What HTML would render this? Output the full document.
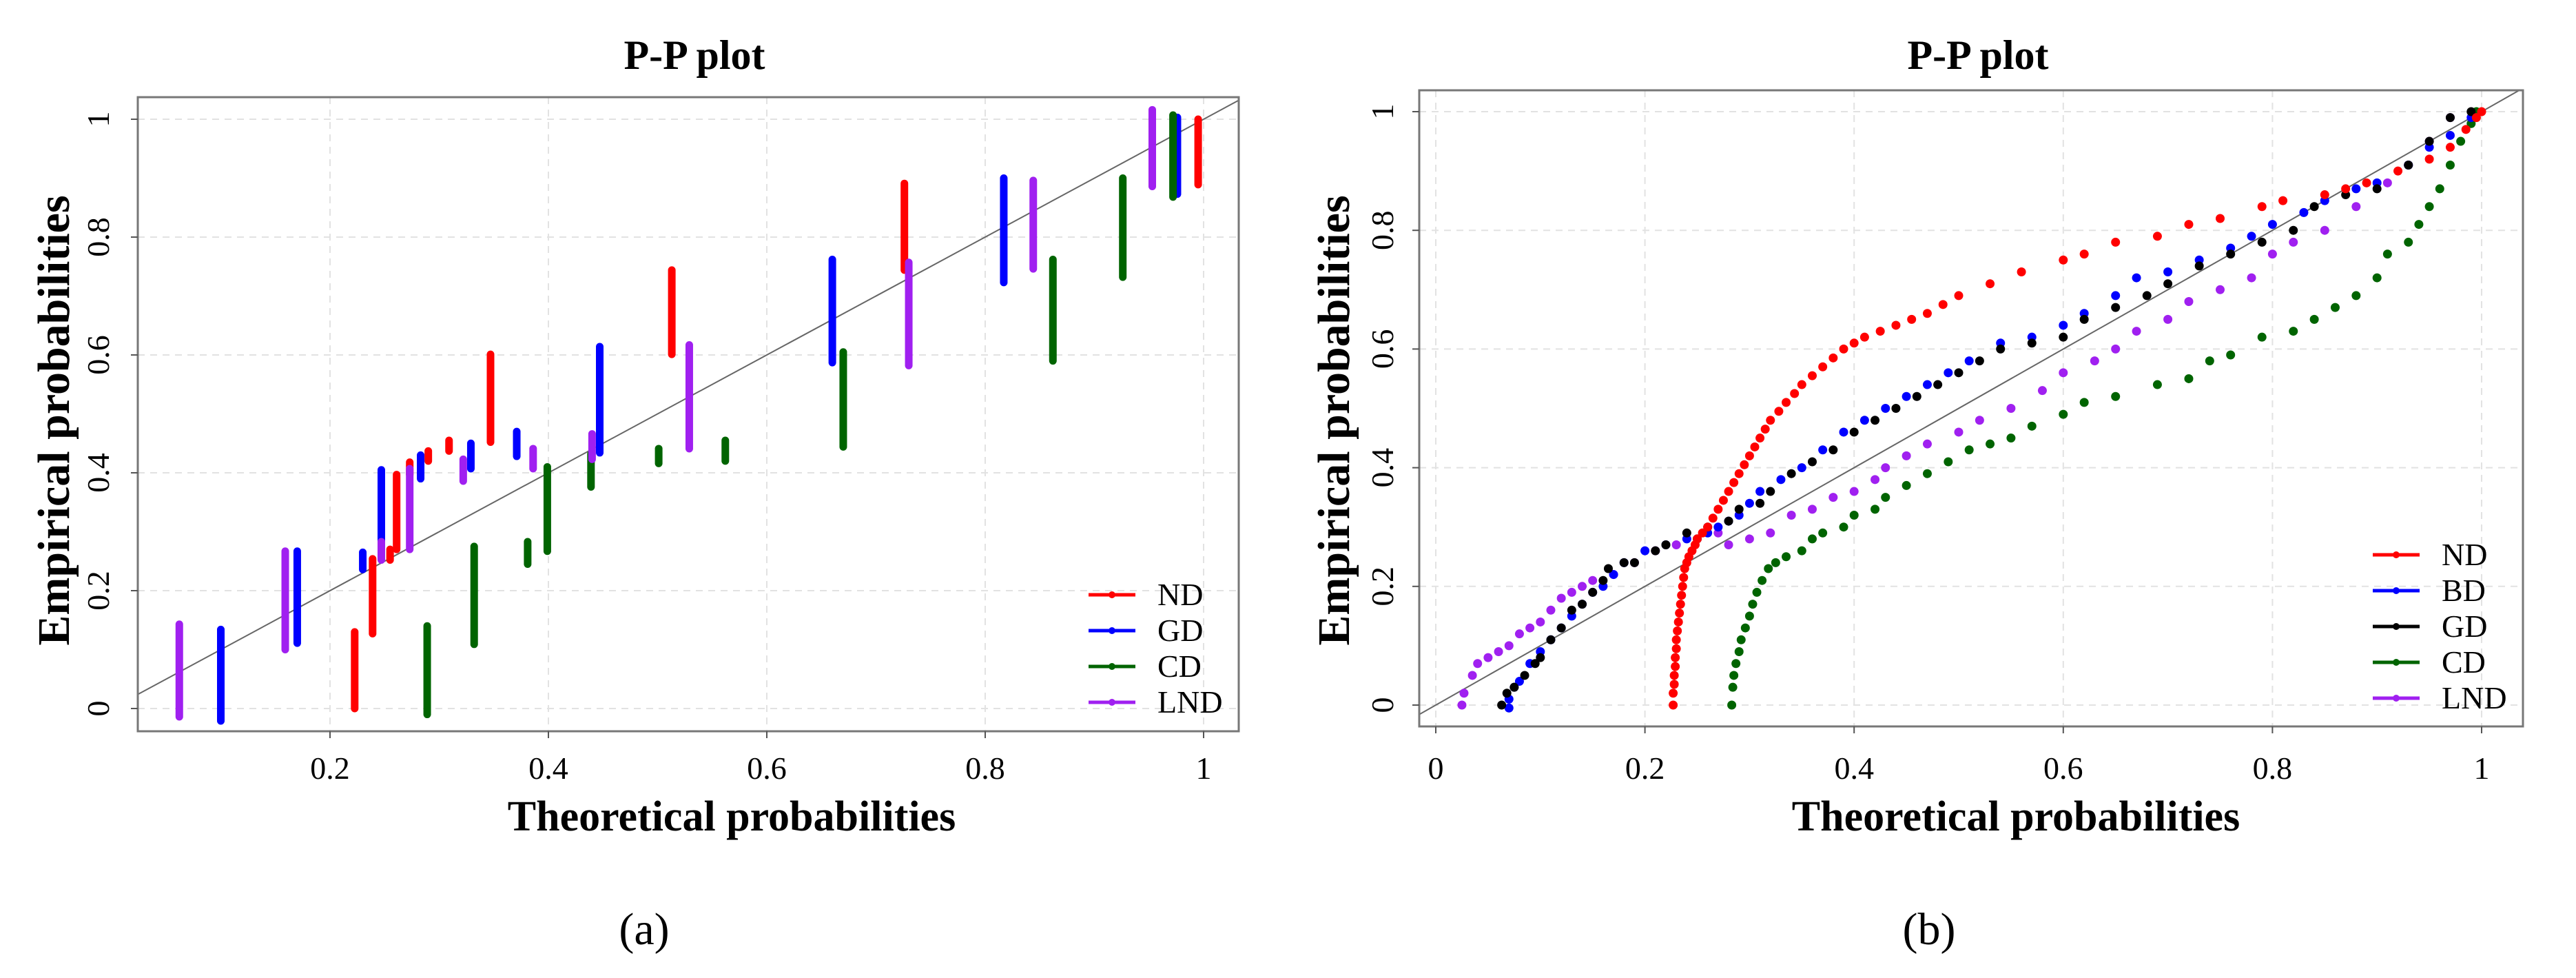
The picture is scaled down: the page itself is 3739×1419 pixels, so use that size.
<!DOCTYPE html>
<html><head><meta charset="utf-8"><style>
html,body{margin:0;padding:0;background:#fff;}
svg{display:block;font-family:"Liberation Serif",serif;}
</style></head><body>
<svg id="fig" width="3739" height="1419" viewBox="0 0 3739 1419" xmlns="http://www.w3.org/2000/svg"></svg>
<script>
// ---------- Panel (a) data: vertical strips [x, yLow, yHigh] ----------
const aTicksX = [0.2, 0.4, 0.6, 0.8, 1];
const aTickLabelsX = ["0.2", "0.4", "0.6", "0.8", "1"];
const ticksY = [0, 0.2, 0.4, 0.6, 0.8, 1];
const tickLabelsY = ["0", "0.2", "0.4", "0.6", "0.8", "1"];
const aND_x   = [0.2226,0.239,0.255,0.261,0.273,0.290,0.309,0.347,0.513,0.726,0.995];
const aND_lo  = [0,0.127,0.252,0.27,0.397,0.42,0.437,0.452,0.601,0.744,0.889];
const aND_hi  = [0.13,0.254,0.27,0.397,0.418,0.437,0.455,0.601,0.744,0.891,1.0];
const aGD_x   = [0.1,0.17,0.23,0.247,0.283,0.329,0.371,0.447,0.66,0.817,0.976];
const aGD_lo  = [-0.021,0.111,0.236,0.26,0.39,0.407,0.428,0.434,0.587,0.723,0.873];
const aGD_hi  = [0.134,0.267,0.265,0.405,0.43,0.45,0.47,0.614,0.762,0.9,1.003];
const aCD_x   = [0.289,0.332,0.381,0.399,0.439,0.501,0.562,0.67,0.862,0.926,0.972];
const aCD_lo  = [-0.01,0.109,0.245,0.267,0.376,0.416,0.42,0.444,0.59,0.732,0.868];
const aCD_hi  = [0.14,0.275,0.283,0.41,0.432,0.441,0.455,0.605,0.762,0.9,1.007];
const aLND_x  = [0.062,0.159,0.247,0.273,0.322,0.386,0.44,0.529,0.73,0.844,0.953];
const aLND_lo = [-0.014,0.1,0.252,0.27,0.386,0.407,0.423,0.441,0.582,0.746,0.886];
const aLND_hi = [0.143,0.267,0.283,0.407,0.423,0.441,0.466,0.617,0.757,0.896,1.016];

// ---------- Panel (b) data: points ----------
const bTicksX = [0, 0.2, 0.4, 0.6, 0.8, 1];
const bTickLabelsX = ["0", "0.2", "0.4", "0.6", "0.8", "1"];
const bND_x = [0.227,0.227,0.228,0.228,0.229,0.229,0.230,0.230,0.231,0.232,0.233,0.234,0.235,0.236,0.237,0.238,0.240,0.242,0.245,0.248,0.25,0.255,0.26,0.265,0.27,0.275,0.28,0.285,0.29,0.295,0.3,0.305,0.31,0.315,0.32,0.328,0.335,0.343,0.35,0.36,0.37,0.38,0.39,0.40,0.41,0.425,0.44,0.455,0.47,0.485,0.5,0.53,0.56,0.6,0.62,0.65,0.69,0.72,0.75,0.79,0.81,0.85,0.87,0.89,0.92,0.95,0.97,0.985,0.995,1.0];
const bND_y = [0.0,0.02,0.035,0.05,0.065,0.08,0.095,0.11,0.125,0.14,0.155,0.17,0.185,0.2,0.215,0.23,0.24,0.25,0.26,0.27,0.28,0.29,0.30,0.315,0.33,0.345,0.36,0.375,0.39,0.405,0.42,0.435,0.45,0.465,0.48,0.495,0.51,0.525,0.54,0.555,0.57,0.585,0.60,0.61,0.62,0.63,0.64,0.65,0.66,0.675,0.69,0.71,0.73,0.75,0.76,0.78,0.79,0.81,0.82,0.84,0.85,0.86,0.87,0.88,0.9,0.92,0.94,0.97,0.99,1.0];
const bBD_x = [0.07,0.07,0.075,0.08,0.09,0.1,0.11,0.12,0.13,0.14,0.15,0.16,0.17,0.18,0.2,0.22,0.24,0.26,0.27,0.28,0.29,0.3,0.31,0.33,0.35,0.37,0.39,0.41,0.43,0.45,0.47,0.49,0.51,0.54,0.57,0.6,0.62,0.65,0.67,0.7,0.73,0.76,0.78,0.8,0.83,0.85,0.88,0.9,0.93,0.95,0.97,0.99];
const bBD_y = [-0.005,0.01,0.03,0.04,0.07,0.09,0.11,0.13,0.15,0.17,0.19,0.2,0.22,0.24,0.26,0.27,0.28,0.29,0.3,0.31,0.32,0.34,0.36,0.38,0.4,0.43,0.46,0.48,0.5,0.52,0.54,0.56,0.58,0.61,0.62,0.64,0.66,0.69,0.72,0.73,0.75,0.77,0.79,0.81,0.83,0.85,0.87,0.88,0.91,0.94,0.96,0.99];
const bGD_x = [0.063,0.068,0.075,0.085,0.095,0.1,0.11,0.12,0.13,0.14,0.15,0.16,0.165,0.18,0.19,0.21,0.22,0.24,0.25,0.26,0.28,0.29,0.31,0.32,0.34,0.36,0.38,0.4,0.42,0.44,0.46,0.48,0.5,0.52,0.54,0.57,0.6,0.62,0.65,0.68,0.7,0.73,0.76,0.79,0.82,0.84,0.87,0.9,0.93,0.95,0.97,0.99];
const bGD_y = [0.0,0.02,0.03,0.05,0.07,0.08,0.11,0.13,0.16,0.17,0.19,0.21,0.23,0.24,0.24,0.26,0.27,0.29,0.28,0.3,0.31,0.33,0.34,0.36,0.39,0.41,0.43,0.46,0.48,0.5,0.52,0.54,0.56,0.58,0.6,0.61,0.62,0.65,0.67,0.69,0.71,0.74,0.76,0.78,0.8,0.84,0.86,0.87,0.91,0.95,0.99,1.0];
const bCD_x = [0.283,0.284,0.285,0.287,0.29,0.292,0.296,0.3,0.303,0.307,0.312,0.318,0.325,0.335,0.35,0.36,0.37,0.39,0.4,0.42,0.43,0.45,0.47,0.49,0.51,0.53,0.55,0.57,0.6,0.62,0.65,0.69,0.72,0.74,0.76,0.79,0.82,0.84,0.86,0.88,0.9,0.91,0.93,0.94,0.95,0.96,0.97,0.98,0.99,0.995];
const bCD_y = [0.0,0.03,0.05,0.07,0.09,0.11,0.13,0.15,0.17,0.19,0.21,0.23,0.24,0.25,0.26,0.28,0.29,0.3,0.32,0.33,0.35,0.37,0.39,0.41,0.43,0.44,0.45,0.47,0.49,0.51,0.52,0.54,0.55,0.58,0.59,0.62,0.63,0.65,0.67,0.69,0.72,0.76,0.78,0.81,0.84,0.87,0.91,0.95,0.98,1.0];
const bLND_x = [0.025,0.027,0.035,0.04,0.05,0.06,0.07,0.08,0.09,0.1,0.11,0.12,0.13,0.14,0.15,0.17,0.19,0.21,0.23,0.25,0.27,0.28,0.3,0.32,0.34,0.36,0.38,0.4,0.42,0.43,0.45,0.47,0.5,0.52,0.55,0.58,0.6,0.63,0.65,0.67,0.7,0.72,0.75,0.78,0.8,0.82,0.85,0.88,0.91,0.93,0.95,0.97];
const bLND_y = [0.0,0.02,0.05,0.07,0.08,0.09,0.1,0.12,0.13,0.14,0.16,0.18,0.19,0.2,0.21,0.22,0.24,0.26,0.27,0.28,0.29,0.27,0.28,0.29,0.32,0.33,0.35,0.36,0.38,0.4,0.42,0.44,0.46,0.48,0.5,0.53,0.56,0.58,0.6,0.63,0.65,0.68,0.7,0.72,0.76,0.78,0.8,0.84,0.88,0.91,0.95,0.99];

const NS = "http://www.w3.org/2000/svg";
const svg = document.getElementById('fig');
function mk(tag, attrs, parent){
  const e = document.createElementNS(NS, tag);
  for (const k in attrs) e.setAttribute(k, attrs[k]);
  (parent||svg).appendChild(e);
  return e;
}
const COL = {ND:"#ff0000", GD:"#0000ff", BD:"#0000ff", CD:"#006400", LND:"#a020f0", GDb:"#000000"};

function panel(p){
  const g = mk('g', {});
  
  
  const sx = v => p.x0 + v*(p.x1-p.x0);
  const sy = v => p.y0 - v*(p.y0-p.y1);
  p.ticksX.forEach(t=>{
    const l = mk('line',{x1:sx(t),x2:sx(t),y1:p.top,y2:p.bottom,stroke:"#e2e2e2","stroke-width":2,"stroke-dasharray":"10,8"},g);
    
    
  });
  ticksY.forEach(t=>{
    const l = mk('line',{x1:p.left,x2:p.right,y1:sy(t),y2:sy(t),stroke:"#e2e2e2","stroke-width":2,"stroke-dasharray":"10,8"},g);
    
    
  });
  const cid = 'clip-'+p.id;
  const cp = mk('clipPath',{id:cid},g);
  mk('rect',{x:p.left,y:p.top,width:p.right-p.left,height:p.bottom-p.top},cp);
  const inner = mk('g',{'clip-path':'url(#'+cid+')'},g);
  const ref = mk('line',{x1:sx(-0.1),y1:sy(-0.1),x2:sx(1.1),y2:sy(1.1),stroke:"#666","stroke-width":2},inner);
  
  
  p.draw(inner, sx, sy);
  const box = mk('rect',{x:p.left,y:p.top,width:p.right-p.left,height:p.bottom-p.top,fill:"none",stroke:"#777","stroke-width":3},g);
  
  
  p.ticksX.forEach((t,i)=>{
    mk('line',{x1:sx(t),x2:sx(t),y1:p.bottom,y2:p.bottom+10,stroke:"#555","stroke-width":2},g);
    const tx = mk('text',{x:sx(t),y:1130,"text-anchor":"middle","font-size":46,fill:"#000"},g);
    tx.textContent = p.tickLabelsX[i];
    
    
  });
  ticksY.forEach((t,i)=>{
    mk('line',{x1:p.left-10,x2:p.left,y1:sy(t),y2:sy(t),stroke:"#555","stroke-width":2},g);
    const tx = mk('text',{x:0,y:0,"text-anchor":"middle","font-size":46,fill:"#000",transform:`translate(${p.ytickX},${sy(t)}) rotate(-90)`},g);
    tx.textContent = tickLabelsY[i];
    
    
  });
  const tt = mk('text',{x:p.titleX,y:100,"text-anchor":"middle","font-size":60,"font-weight":"bold",fill:"#000"},g);
  tt.textContent = "P-P plot";
  
  
  const xt = mk('text',{x:p.xtitleX,y:1205,"text-anchor":"middle","font-size":62,"font-weight":"bold",fill:"#000"},g);
  xt.textContent = "Theoretical probabilities";
  
  
  const yt = mk('text',{x:0,y:0,"text-anchor":"middle","font-size":66,"font-weight":"bold",fill:"#000",transform:`translate(${p.ytitleX},610) rotate(-90)`},g);
  yt.textContent = "Empirical probabilities";
  
  
  const cap = mk('text',{x:p.capX,y:1370,"text-anchor":"middle","font-size":66,fill:"#000"},g);
  cap.textContent = p.cap;
  
  
  p.legend.forEach((it,i)=>{
    const y = p.legY + i*p.legStep;
    const lg = mk('g',{},g);
    
    
    mk('line',{x1:p.legX,x2:p.legX+68,y1:y,y2:y,stroke:it[1],"stroke-width":5},lg);
    mk('circle',{cx:p.legX+34,cy:y,r:5,fill:it[1]},lg);
    const t = mk('text',{x:p.legX+100,y:y+15,"font-size":46,fill:"#000"},lg);
    t.textContent = it[0];
  });
}

function strips(parent, sx, sy, xs, lo, hi, col, name){
  xs.forEach((x,i)=>{
    const l = mk('line',{x1:sx(x),x2:sx(x),y1:sy(lo[i]),y2:sy(hi[i]),stroke:col,"stroke-width":11,"stroke-linecap":"round"},parent);
    
    
  });
}
function pts(parent, sx, sy, xs, ys, col, name){
  xs.forEach((x,i)=>{
    const c = mk('circle',{cx:sx(x),cy:sy(ys[i]),r:6.5,fill:col},parent);
    
    
  });
}

panel({id:"panel-a", left:200,right:1798,top:141,bottom:1061,
  x0:162, x1:1747, y0:1028, y1:173,
  ticksX:aTicksX, tickLabelsX:aTickLabelsX, ytickX:158, titleX:1008, xtitleX:1062, ytitleX:100, capX:935, cap:"(a)",
  legX:1580, legY:863, legStep:52,
  legend:[["ND",COL.ND],["GD",COL.GD],["CD",COL.CD],["LND",COL.LND]],
  draw:(g,sx,sy)=>{
    strips(g,sx,sy,aND_x,aND_lo,aND_hi,COL.ND,'nd-strip');
    strips(g,sx,sy,aGD_x,aGD_lo,aGD_hi,COL.GD,'gd-strip');
    strips(g,sx,sy,aCD_x,aCD_lo,aCD_hi,COL.CD,'cd-strip');
    strips(g,sx,sy,aLND_x,aLND_lo,aLND_hi,COL.LND,'lnd-strip');
  }});

panel({id:"panel-b", left:2060,right:3662,top:131,bottom:1054,
  x0:2084, x1:3602, y0:1023, y1:162,
  ticksX:bTicksX, tickLabelsX:bTickLabelsX, ytickX:2022, titleX:2871, xtitleX:2926, ytitleX:1958, capX:2800, cap:"(b)",
  legX:3444, legY:805, legStep:52,
  legend:[["ND",COL.ND],["BD",COL.BD],["GD",COL.GDb],["CD",COL.CD],["LND",COL.LND]],
  draw:(g,sx,sy)=>{
    pts(g,sx,sy,bLND_x,bLND_y,COL.LND,'lnd-point');
    pts(g,sx,sy,bCD_x,bCD_y,COL.CD,'cd-point');
    pts(g,sx,sy,bBD_x,bBD_y,COL.BD,'bd-point');
    pts(g,sx,sy,bGD_x,bGD_y,COL.GDb,'gd-point');
    pts(g,sx,sy,bND_x,bND_y,COL.ND,'nd-point');
  }});
</script>
</body></html>
